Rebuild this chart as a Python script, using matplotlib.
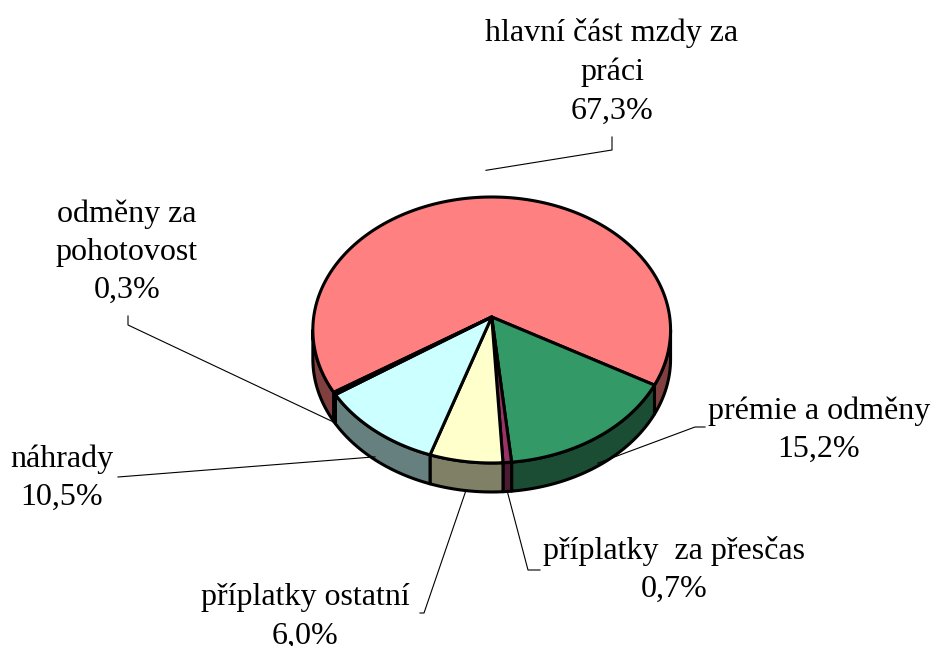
import numpy as np
import matplotlib
matplotlib.use("Agg")
import matplotlib.pyplot as plt
from matplotlib.patches import Polygon

# slice data (clockwise from start angle)
labels = ["hlavní část mzdy za\npráci", "prémie a odměny", "příplatky  za přesčas",
          "příplatky ostatní", "náhrady", "odměny za\npohotovost"]
values = [67.3, 15.2, 0.7, 6.0, 10.5, 0.3]
pct_text = ["67,3%", "15,2%", "0,7%", "6,0%", "10,5%", "0,3%"]
top_colors = ["#FF8080", "#339966", "#993366", "#FFFFCC", "#CCFFFF", "#660066"]
side_colors = ["#804040", "#1A4D33", "#4D1A33", "#808066", "#668080", "#330033"]

# layout of the 3d pie (pixels)
cx, cy = 491.7, 317.0
D = 6.88
F = 178.0 * D
sin_e, cos_e = 0.74, 0.672
depth = 29.0
start = 212.8

# label centres and leader lines (label side)
label_pos = [(612, 72), (819, 430), (674, 570), (305, 617), (62, 478), (127, 252)]
leader_pts = [[(612, 137), (612, 150)], [(705, 427), (695, 427)], [(540, 570), (528, 570)],
              [(420, 613), (424, 613)], [(118, 477)], [(128, 316), (128, 325)]]
leader_r = [1.25, 1.0, 1.0, 1.0, 1.0, 1.0]
leader_d = [0.0, 0.9, 1.0, 1.0, 0.9, 1.0]


def proj(theta_deg, r=1.0):
    t = np.radians(theta_deg)
    X, Z = r * np.cos(t), r * np.sin(t)
    s = F / (D + Z * cos_e)
    return cx + X * s, cy - Z * sin_e * s


fig = plt.figure(figsize=(9.32, 6.46), dpi=100)
ax = fig.add_axes([0, 0, 1, 1])
ax.set_xlim(0, 932)
ax.set_ylim(646, 0)
ax.axis("off")

fr = np.array(values) / sum(values) * 360.0
bounds = start - np.concatenate([[0], np.cumsum(fr)])

# visible part of the rim
tmin = 180 + np.degrees(np.arcsin(cos_e / D))
tmax = 360 - np.degrees(np.arcsin(cos_e / D))

lw = 2.2
for i in range(len(values)):
    a1, a2 = bounds[i + 1], bounds[i]
    for k in range(-2, 3):
        lo, hi = max(a1, tmin + 360 * k), min(a2, tmax + 360 * k)
        if hi <= lo:
            continue
        th = np.linspace(lo, hi, 100)
        x, y = proj(th)
        pts = np.column_stack([np.r_[x, x[::-1]], np.r_[y, y[::-1] + depth]])
        ax.add_patch(Polygon(pts, closed=True, fc=side_colors[i], ec="black",
                             lw=lw, joinstyle="round"))

for i in range(len(values)):
    a1, a2 = bounds[i + 1], bounds[i]
    th = np.linspace(a1, a2, max(int(abs(a2 - a1)) * 2, 4))
    x, y = proj(th)
    pts = np.column_stack([np.r_[cx, x], np.r_[cy, y]])
    ax.add_patch(Polygon(pts, closed=True, fc=top_colors[i], ec="black",
                         lw=lw, joinstyle="round"))

# labels with leader lines
for i in range(len(values)):
    mid = (bounds[i] + bounds[i + 1]) / 2
    ex, ey = proj(mid, leader_r[i])
    ey = ey + depth * leader_d[i]
    pts = leader_pts[i] + [(ex, ey)]
    ax.plot([p[0] for p in pts], [p[1] for p in pts], color="black", lw=0.8)
    ax.text(label_pos[i][0], label_pos[i][1], labels[i] + "\n" + pct_text[i],
            ha="center", va="center", fontsize=23, family="Liberation Serif",
            linespacing=1.42)

fig.savefig("out.png", dpi=100)
